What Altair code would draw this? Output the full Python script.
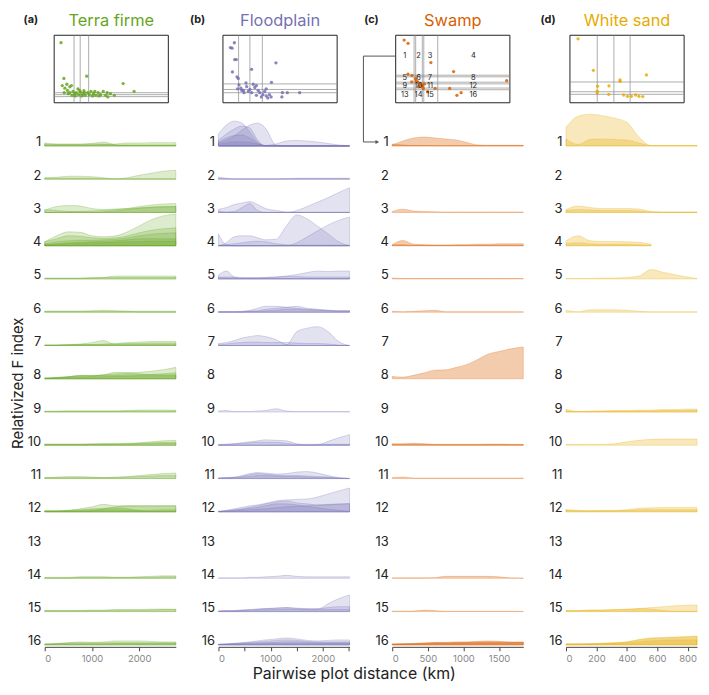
import altair as alt
import pandas as pd

FONT = "Inter"
INK = "#222222"

HABITATS = ["Terra firme", "Floodplain", "Swamp", "White sand"]
PANEL_TAGS = ["(a)", "(b)", "(c)", "(d)"]
COLORS = ["#66a61e", "#7570b3", "#d95f02", "#e6ab02"]
FILL_OPACITY = [0.22, 0.2, 0.32, 0.27]
X_MAX = [2775, 2510, 1840, 862]
X_TICKS = [[0, 1000, 2000], [0, 500, 1000, 1500, 2000, 2500], [0, 500, 1000, 1500], [0, 200, 400, 600, 800]]
ROWS = list(range(1, 17))

# ---------------- ridge curves (height of relativized F index, per row) ----------------
TF_X = [0, 250, 500, 750, 1000, 1250, 1500, 1750, 2000, 2250, 2500, 2775]
TF_CURVES = {
    1: [[3, 2, 2, 2, 2.5, 4, 1, 0.5, 0.5, 0.5, 0.5, 0.5],
        [1, 1, 1, 1, 1, 1.5, 2, 3, 3, 3.3, 3.3, 3.3],
        [2, 1.5, 1.5, 1.5, 2, 2, 1, 1, 1, 1, 1, 1]],
    2: [[1.5, 2, 3, 3, 2.5, 1.5, 0.3, 1.5, 4, 6, 8, 9],
        [1, 1, 1, 1, 1, 0.5, 0.5, 0.5, 0.5, 0.5, 0.5, 0.5]],
    3: [[2, 6, 7, 6.5, 4, 3, 3.5, 4, 4.5, 5, 5.5, 6],
        [0, 0, 0.5, 1, 1.5, 2, 3, 4, 6, 7.5, 8.5, 9],
        [3, 2, 1, 0.5, 0, 0.5, 1.5, 3, 4.5, 5.5, 6, 6]],
    4: [[4, 10, 14, 13.5, 10, 9, 10, 14, 20, 26, 30, 32],
        [4, 7, 10, 9.5, 8, 7.5, 8, 10, 13, 15.5, 17, 18],
        [2, 4, 5, 5.5, 5.5, 6, 6.5, 8, 10, 11.5, 12.5, 13],
        [1, 2, 3, 3.5, 4, 4.5, 5, 6, 7, 7, 7, 7],
        [1, 1.5, 2, 2.5, 3, 3, 3.5, 4, 4, 4.5, 4.5, 4.5]],
    5: [[0.5, 0.5, 0.5, 0.5, 1, 1.5, 3, 3, 3, 3, 3, 3],
        [1, 1, 1, 1, 1.5, 1.5, 1.5, 1.5, 1.5, 1.5, 1.5, 1.5]],
    6: [[1, 1, 1, 1, 1.5, 2, 1.5, 1, 0.5, 0.5, 0.5, 0.5],
        [1, 1, 1, 1, 1, 1, 1, 1, 1, 1, 1, 1]],
    7: [[0.5, 0.5, 1, 1.5, 3, 5, 1, 1, 1, 1, 1, 1],
        [0.5, 0.5, 1, 1, 1, 1.5, 2, 3, 3.5, 4, 4, 4],
        [0.5, 0.5, 0.5, 1, 1, 1, 1.5, 2, 2, 2.5, 2.5, 2.5]],
    8: [[0, 1, 2, 3.5, 3.5, 4, 5, 6, 6.5, 7.5, 9, 11.5],
        [0.5, 1, 2, 3, 3, 4, 6.5, 6, 5, 4, 4, 4],
        [1, 1.5, 2, 3, 3, 3.5, 3.5, 4, 4, 4.5, 5, 6],
        [0.5, 1, 1.5, 1.5, 2, 2, 2.5, 2.5, 3, 3, 3, 3]],
    9: [[0.5, 0.5, 1, 1, 1, 1, 1, 1.5, 2, 2, 2, 2],
        [1, 1, 1, 1, 1, 1, 1, 1, 1, 1, 1, 1]],
    10: [[1, 1, 1, 1, 1.5, 1.5, 1.5, 2, 2.5, 3.5, 4.5, 5],
         [1, 1, 1, 1, 1, 1.5, 1.5, 1.5, 2, 2.5, 3, 3],
         [1, 1, 1, 1, 1, 1, 1, 1, 1.5, 1.5, 2, 2]],
    11: [[1, 1.5, 2, 2, 1.5, 1, 1.5, 2, 3, 4, 5, 5.5],
         [1, 1, 1, 1, 1, 1, 1, 1.5, 2, 2.5, 3, 3]],
    12: [[1, 1, 1.5, 3, 5, 7.5, 6, 6, 6, 6, 6, 6],
         [0.5, 0.5, 0.5, 0.5, 1, 3, 5, 6, 6, 6, 6, 6],
         [1, 1, 1.5, 2, 3, 3.5, 4, 3, 1, 0.5, 0.5, 0.5],
         [0.5, 0.5, 1, 1.5, 2, 2, 2, 1.5, 1.5, 1.5, 2, 2]],
    14: [[1, 1, 1, 1.5, 1.5, 1.5, 1, 1, 1.5, 2, 2.5, 2.5],
         [0.5, 0.5, 0.5, 1, 1, 1, 1, 1, 1, 1, 1.5, 1.5]],
    15: [[1, 1, 1, 1, 1.5, 1.5, 2, 2, 2, 2.5, 2.5, 2.5],
         [1, 1, 1, 1, 1, 1, 1.5, 1.5, 1.5, 1.5, 2, 2]],
    16: [[0.5, 1, 2, 3, 2.5, 3, 4, 4, 4, 3.5, 3, 3],
         [1, 1.5, 2, 2, 2, 2, 2, 2, 2, 2, 2, 2],
         [0.5, 1, 1, 1, 1, 1, 1.5, 1.5, 1.5, 1.5, 1.5, 1.5]],
}

FP_X = [0, 150, 300, 450, 600, 750, 900, 1100, 1300, 1500, 1700, 1900, 2100, 2300, 2510]
FP_CURVES = {
    1: [[12, 21, 25, 23, 14, 4, 0, 0, 0, 0, 0, 0, 0, 0, 0],
        [3, 6, 10, 16, 21, 23, 18, 1, 0, 0, 0, 0, 0, 0, 0],
        [6, 12, 17, 20, 18, 6, 0, 0, 0, 0, 0, 0, 0, 0, 0],
        [4, 8, 10.5, 11, 8, 3, 0, 0, 0, 0, 0, 0, 0, 0, 0],
        [2, 3, 4, 4, 3.5, 2, 0.5, 0, 0, 0, 0, 0, 0, 0, 0],
        [0, 0, 0, 0, 0, 0, 0.5, 2, 5, 5.5, 5, 4, 2.5, 1, 0.3]],
    2: [[2, 1, 0.5, 0.5, 0.5, 0.5, 0.5, 0.5, 0.5, 1, 1, 1, 1, 1, 1],
        [1, 0.5, 0.3, 0.3, 0.3, 0.3, 0.3, 0.3, 0.5, 0.5, 0.5, 0.5, 0.5, 0.5, 0.5]],
    3: [[3.3, 5, 8, 9.5, 11, 8, 4, 2, 0.5, 0, 0, 0, 0, 0, 0],
        [0, 0, 0, 0, 0, 0, 0, 0, 0, 2, 6, 10.5, 15, 20, 25],
        [1.5, 0.5, 1, 5, 9, 2, 0, 0, 0, 0, 0, 0, 0, 0, 0]],
    4: [[11.7, 1, 0, 0, 0, 0, 0, 0, 0, 0, 0, 0, 0, 0, 0],
        [0, 3, 9, 10, 10, 8, 6, 6.5, 20, 31, 27, 19.6, 11.9, 4, 0],
        [0, 0, 0, 0, 0, 0, 0, 0, 0, 3, 9, 15, 21, 25.5, 29],
        [0, 1, 2, 3, 4, 4.5, 4, 2, 1, 0.5, 0.5, 0.5, 0.5, 0.5, 0.5]],
    5: [[4, 8, 2, 0.5, 0.5, 0.5, 0.5, 0.5, 0.5, 0.5, 0.5, 0.5, 0.5, 0.5, 0.5],
        [1, 1, 1, 1, 1, 1, 1.5, 2, 3, 4.5, 6.5, 8, 7.5, 8, 8],
        [2, 2, 2, 1.5, 1.5, 1.5, 1.5, 2, 2.5, 2.5, 2, 2, 2, 2, 2]],
    6: [[0.5, 0.5, 0.5, 1, 2, 4, 6, 6, 5, 4, 3, 2.5, 2, 1.5, 1.5],
        [0.5, 0.5, 0.5, 0.5, 1, 1.5, 3, 4, 5, 6, 4, 3, 2, 1.5, 1.5],
        [0.5, 0.5, 0.5, 0.5, 1, 1, 1.5, 2, 3, 3, 2.5, 2, 1.5, 1, 1]],
    7: [[2, 3, 5, 7.5, 9, 10, 9, 6, 1, 0, 0, 0, 0, 0, 0],
        [0, 0, 0, 0, 0, 0, 0, 0, 0.5, 14, 17.5, 19, 14, 4, 0],
        [1, 1.5, 2.5, 3, 3.5, 3.5, 3, 3, 3, 2.5, 2, 2, 1.5, 0.5, 0]],
    9: [[1, 1.5, 0.5, 0.5, 0.5, 1, 1.5, 3.3, 1, 0.5, 0.5, 0.5, 0.5, 0.5, 0.5]],
    10: [[0.5, 1, 1.5, 2.5, 3.5, 4.5, 5.5, 5, 4.5, 1.5, 0.5, 0.5, 0.5, 0.5, 0.5],
         [0, 0, 0, 0, 0, 0, 0, 0, 0, 0, 0, 0.5, 4, 7.5, 10.7],
         [1, 1, 1.5, 2, 2.5, 3, 3, 3, 2, 1, 1, 1, 1, 1, 1]],
    11: [[0.5, 1, 1.5, 3, 5, 6, 5.5, 4.5, 5, 6.5, 7, 5.5, 3, 1, 0],
         [0.5, 1, 1, 2, 4, 5, 4.5, 3.5, 3, 3, 2.5, 2, 1.5, 0.5, 0],
         [0.5, 0.5, 1, 1.5, 2, 3, 3, 2.5, 2, 2, 1.5, 1, 1, 0.5, 0.3]],
    12: [[0, 1.5, 3, 4.5, 6, 7, 8.5, 11, 12, 12.5, 13, 15, 18, 21, 24],
         [0.5, 1, 2, 3, 4.5, 6, 8, 10, 11, 9, 8, 7, 7.5, 8, 8.5],
         [0.5, 1, 1.5, 2.5, 3.5, 4.5, 6, 8, 8, 7, 5.5, 4, 2.5, 1.5, 0.5],
         [0.5, 0.5, 1, 1.5, 2, 2.5, 3, 4, 5, 5.5, 6, 6.5, 7, 7.5, 8]],
    14: [[0.5, 0.5, 0.5, 0.5, 1, 1, 1.5, 2, 3, 2, 1.5, 1.5, 1.5, 1.5, 1.5]],
    15: [[0.5, 1, 1, 1.5, 2, 2.5, 3, 3.5, 4, 3, 2.5, 2.5, 8, 13, 16.7],
         [0.5, 1, 1, 1.5, 2, 2.5, 3, 3.5, 4, 3.5, 3, 3, 4, 5, 5],
         [0.5, 0.5, 0.5, 1, 1, 1.5, 2, 2, 2.5, 2, 2, 2, 2, 2, 2]],
    16: [[0.5, 1, 1.5, 2, 3, 4, 5, 6, 7, 6, 4.5, 4, 4.5, 5, 5],
         [0.5, 1, 1.5, 2, 2.5, 3, 3.5, 4.5, 5, 4.5, 3.5, 3, 3, 3, 3],
         [0.5, 0.5, 1, 1, 1.5, 2, 2, 2.5, 3, 3, 2.5, 2, 2, 2, 2],
         [0.5, 0.5, 0.5, 1, 1, 1, 1.5, 1.5, 1.5, 1.5, 1.5, 1.5, 1.5, 1.5, 1.5]],
}

SW_X = [0, 150, 300, 450, 600, 750, 900, 1050, 1200, 1350, 1500, 1650, 1840]
SW_CURVES = {
    1: [[1, 5, 8, 9, 8, 7, 6, 3.5, 1, 0.7, 0.7, 0.7, 0.7],
        [2, 1, 0.5, 0.5, 0.3, 0.3, 0.3, 0.3, 0.3, 0.3, 0.3, 0.3, 0.3]],
    3: [[1, 3.3, 1.5, 1, 0.7, 0.5, 0.5, 0.5, 0.5, 0.5, 0.5, 0.5, 0.5]],
    4: [[1, 5.3, 1.5, 1, 0.7, 0.7, 1, 1, 1.5, 1.5, 2, 2, 2],
        [1, 1, 0.5, 0.5, 0.5, 0.5, 0.5, 0.5, 0.5, 0.5, 0.5, 0.5, 0.5]],
    5: [[1, 0.5, 0.5, 0.5, 0.5, 0.5, 0.5, 0.5, 0.5, 0.5, 0.5, 0.5, 0.5]],
    6: [[1, 0.5, 1, 1.5, 2, 0.5, 0.5, 0.5, 0.5, 0.5, 0.5, 0.5, 0.5]],
    8: [[2.3, 1.7, 3.5, 6, 8.7, 9, 11.5, 14.5, 19.5, 25, 27.5, 30, 32]],
    10: [[1.5, 1.5, 2, 1.5, 1, 1, 1, 1, 1, 1.2, 1.2, 1, 1],
         [1, 1, 1, 1, 0.7, 0.7, 0.7, 0.7, 0.7, 0.7, 0.7, 0.7, 0.7]],
    11: [[1, 1.5, 0.5, 0.5, 0.5, 0.5, 0.5, 0.5, 0.5, 0.5, 0.5, 0.5, 0.5]],
    14: [[0.5, 0.5, 0.5, 0.5, 0.7, 2, 2, 2, 2, 2, 1.5, 0.5, 0.3]],
    15: [[0.5, 0.5, 0.5, 1.5, 1, 0.3, 0.3, 0.3, 0.3, 0.3, 0.3, 0.3, 0.3]],
    16: [[0.5, 1, 1.5, 2, 2.5, 2.5, 3, 3, 3.5, 4, 3.5, 3, 3],
         [0.5, 1, 1, 1.5, 2, 2, 2.5, 2.5, 3, 3, 3, 2.5, 2.5],
         [1, 1, 1, 1, 1.5, 1.5, 1.5, 2, 2, 2, 2, 2, 2]],
}

WS_X = [0, 80, 160, 240, 320, 400, 480, 560, 640, 720, 800, 862]
WS_CURVES = {
    1: [[19, 30, 32, 30.5, 28, 24, 9, 0.5, 0.5, 0.5, 0.5, 0.5],
        [7, 1.5, 6.5, 7, 6.5, 6, 3, 0.3, 0.3, 0.3, 0.3, 0.3]],
    3: [[3, 6.5, 5, 4, 4, 4, 3.5, 1, 0.5, 0.5, 0.5, 0.5],
        [2, 3, 2.5, 2, 2, 2, 1.5, 0.5, 0.3, 0.3, 0.3, 0.3]],
    4: [[5, 10, 5, 4.3, 4.2, 4, 3.5, 1.5, None, None, None, None],
        [2, 3, 2, 1.5, 1.5, 1.5, 1, 0.5, None, None, None, None]],
    5: [[0.5, 0.5, 0.5, 1, 1, 1.5, 3, 9.5, 6.7, 4.3, 2, 0.5]],
    6: [[2, 0.5, 2.5, 2.5, 2.5, 2, 1, 0.5, 0.5, 0.5, 0.5, 0.5]],
    9: [[3, 0.5, 1, 1, 1.5, 1.5, 2, 2, 2.5, 2.5, 3, 3],
        [1, 0.5, 0.5, 1, 1, 1, 1, 1, 1.5, 1.5, 1.5, 2]],
    10: [[1, 1, 1, 1, 1.5, 3.5, 5, 6, 6.3, 6.3, 6.3, 6.3]],
    12: [[2, 1, 1, 1.5, 1.5, 2, 3.5, 4, 4.3, 4.3, 4.3, 4.3],
         [2, 1.5, 1, 1, 1, 1.5, 2, 2, 2, 2, 2, 2]],
    15: [[1, 1, 1.5, 1.5, 2, 2, 3, 4, 5, 6, 6.5, 6.7],
         [1, 1, 1.5, 1.5, 2, 2.5, 3, 2.5, 1, 0.3, 0.3, 0.3]],
    16: [[1, 1, 1, 1.5, 2, 3, 5.5, 7, 7.5, 8, 8.5, 9],
         [1, 1, 1, 1.5, 2, 3, 5, 6.5, 7, 7.5, 8, 8.5],
         [0.5, 0.5, 1, 1, 1.5, 2, 3, 4, 4.5, 5, 5, 5]],
}

# ---------------- inset scatter plots (relative units 0..1) ----------------
TF_PTS_X = [0.06, 0.085, 0.285, 0.604, 0.70, 0.071, 0.094, 0.111, 0.137, 0.151, 0.117, 0.137, 0.165,
            0.179, 0.194, 0.214, 0.231, 0.222, 0.251, 0.271, 0.293, 0.308, 0.322, 0.345, 0.365, 0.385,
            0.407, 0.43, 0.45, 0.47, 0.493, 0.527, 0.157, 0.185, 0.242, 0.336, 0.123, 0.088, 0.208,
            0.265, 0.356, 0.393, 0.464, 0.26]
TF_PTS_Y = [0.89, 0.36, 0.394, 0.284, 0.168, 0.255, 0.216, 0.274, 0.236, 0.255, 0.183, 0.149, 0.168,
            0.135, 0.149, 0.12, 0.159, 0.183, 0.13, 0.111, 0.149, 0.12, 0.168, 0.135, 0.111, 0.149,
            0.12, 0.168, 0.111, 0.087, 0.135, 0.111, 0.111, 0.101, 0.101, 0.101, 0.135, 0.149, 0.207,
            0.149, 0.168, 0.101, 0.149, 0.178]
TF_VLINES = [0.174, 0.228, 0.302]
TF_HLINES = [0.091, 0.12, 0.149]

FP_PTS_X = [0.066, 0.08, 0.1, 0.103, 0.117, 0.083, 0.123, 0.134, 0.251, 0.464, 0.425, 0.14, 0.157,
            0.179, 0.208, 0.236, 0.265, 0.279, 0.308, 0.322, 0.35, 0.379, 0.407, 0.293, 0.251, 0.185,
            0.165, 0.222, 0.365, 0.521, 0.564, 0.672, 0.516, 0.422, 0.393, 0.336, 0.128, 0.202, 0.293,
            0.379]
FP_PTS_Y = [0.817, 0.808, 0.889, 0.64, 0.64, 0.457, 0.385, 0.36, 0.495, 0.591, 0.303, 0.264, 0.216,
            0.183, 0.24, 0.197, 0.274, 0.226, 0.183, 0.149, 0.12, 0.101, 0.12, 0.111, 0.149, 0.149,
            0.183, 0.168, 0.168, 0.149, 0.149, 0.149, 0.087, 0.087, 0.072, 0.087, 0.207, 0.293, 0.255,
            0.207]
FP_VLINES = [0.137, 0.236, 0.345]
FP_HLINES = [0.149, 0.197, 0.279]

SW_PTS_X = [0.074, 0.108, 0.308, 0.507, 0.972, 0.108, 0.142, 0.14, 0.179, 0.194, 0.214, 0.236, 0.242,
            0.279, 0.345, 0.473, 0.536, 0.573, 0.222, 0.202, 0.251, 0.174]
SW_PTS_Y = [0.928, 0.88, 0.596, 0.462, 0.327, 0.423, 0.404, 0.308, 0.327, 0.308, 0.279, 0.245, 0.212,
            0.163, 0.212, 0.212, 0.111, 0.149, 0.26, 0.24, 0.279, 0.356]
SW_VLINES = [0.161, 0.175, 0.233, 0.246, 0.368]
SW_HLINES = [0.193, 0.218, 0.280, 0.305, 0.384, 0.408]
SW_REGION_COL_X = [0.08, 0.2, 0.3, 0.68]
SW_REGION_ROW_Y = [0.69, 0.36, 0.245, 0.11]

WS_PTS_X = [0.071, 0.205, 0.67, 0.439, 0.439, 0.242, 0.342, 0.239, 0.239, 0.339, 0.47, 0.504, 0.538,
            0.575, 0.604, 0.638]
WS_PTS_Y = [0.947, 0.481, 0.413, 0.337, 0.317, 0.245, 0.25, 0.173, 0.149, 0.125, 0.115, 0.096, 0.096,
            0.115, 0.096, 0.091]
WS_VLINES = [0.239, 0.385, 0.527]
WS_HLINES = [0.125, 0.163, 0.308]

# ---------------- layout constants ----------------
PANEL_W = 132
PANEL_H = 616
STEP = 33.5                      # vertical offset between ridge rows
Y_DOMAIN = [-2, 614]
ROW1_Y = 111.5                   # pixel offset of row 1 baseline from panel top
INSET_W = 115
INSET_H = 68
INSET_LEFT = [9.5, 4.5, 3.5, 4.0]
TAG_X = [-14, -21, -21, -18]


def ridge_frame(xs, curves):
    recs = []
    for row, group in curves.items():
        for ci, hs in enumerate(group):
            for x, h in zip(xs, hs):
                if h is None:
                    continue
                recs.append({"row": row, "curve": f"{row}-{ci}", "km": x, "h": h})
    return pd.DataFrame(recs)


def panel(i, xs, curves, pts_x, pts_y, vlines, hlines, first=False, regions=False, connector=False):
    color = COLORS[i]
    df = ridge_frame(xs, curves)
    yaxis = alt.Axis(
        orient="left",
        values=[(16 - k) * STEP for k in ROWS],
        labelExpr=f"16 - round(datum.value / {STEP})",
        domain=False, ticks=False, grid=False,
        labelFontSize=13, labelColor=INK, labelBaseline="alphabetic", labelPadding=4,
        title="Relativized F index" if first else None,
        titleFontSize=15, titleFontWeight="normal", titleColor=INK,
        titlePadding=2, titleY=350,
    )
    xaxis = alt.Axis(
        orient="bottom", values=X_TICKS[i], title=None, grid=False, format="d",
        labelFontSize=9.5, labelColor="#888888", domainColor="#444444",
        tickColor="#444444", tickSize=4, labelPadding=3,
    )
    ridge = alt.Chart(df).transform_calculate(
        base=f"(16 - datum.row) * {STEP}",
        top=f"(16 - datum.row) * {STEP} + datum.h",
    ).mark_area(
        interpolate="monotone", color=color, fillOpacity=FILL_OPACITY[i],
        stroke=color, strokeOpacity=0.45, strokeWidth=0.6,
    ).encode(
        x=alt.X("km:Q", scale=alt.Scale(domain=[0, X_MAX[i]], nice=False), axis=xaxis),
        y=alt.Y("top:Q", scale=alt.Scale(domain=Y_DOMAIN, nice=False, zero=False), axis=yaxis),
        y2="base:Q",
        detail="curve:N",
    )

    ix = alt.Scale(domain=[0, 1], range=[INSET_LEFT[i], INSET_LEFT[i] + INSET_W], nice=False, zero=False)
    iy = alt.Scale(domain=[0, 1], range=[INSET_H, 0], nice=False, zero=False)

    box_df = pd.DataFrame({"x0": [0], "x1": [1], "y0": [0], "y1": [1]})
    box = alt.Chart(box_df).mark_rect(fill="white", stroke="#222222", strokeWidth=1).encode(
        x=alt.X("x0:Q", scale=ix, axis=None), x2="x1:Q",
        y=alt.Y("y0:Q", scale=iy, axis=None), y2="y1:Q",
    )
    vdf = pd.DataFrame({"v": vlines, "lo": 0, "hi": 1})
    vl = alt.Chart(vdf).mark_rule(color="#8a8a8a", strokeWidth=0.7).encode(
        x=alt.X("v:Q", scale=ix, axis=None),
        y=alt.Y("lo:Q", scale=iy, axis=None), y2="hi:Q",
    )
    hdf = pd.DataFrame({"h": hlines, "lo": 0, "hi": 1})
    hl = alt.Chart(hdf).mark_rule(color="#8a8a8a", strokeWidth=0.7).encode(
        y=alt.Y("h:Q", scale=iy, axis=None),
        x=alt.X("lo:Q", scale=ix, axis=None), x2="hi:Q",
    )
    pdf = pd.DataFrame({"px": pts_x, "py": pts_y})
    pts = alt.Chart(pdf).mark_circle(size=11, color=color, opacity=0.85).encode(
        x=alt.X("px:Q", scale=ix, axis=None),
        y=alt.Y("py:Q", scale=iy, axis=None),
    )
    inset_layers = [box, vl, hl, pts]
    if regions:
        recs = []
        n = 1
        for ry in SW_REGION_ROW_Y:
            for rx in SW_REGION_COL_X:
                recs.append({"rx": rx, "ry": ry, "lab": str(n)})
                n += 1
        rdf = pd.DataFrame(recs)
        lab = alt.Chart(rdf).mark_text(fontSize=7.5, color=INK, font=FONT, baseline="middle").encode(
            x=alt.X("rx:Q", scale=ix, axis=None),
            y=alt.Y("ry:Q", scale=iy, axis=None),
            text="lab:N",
        )
        inset_layers.append(lab)
    inset = alt.layer(*inset_layers)

    one = pd.DataFrame({"a": [0]})
    title = alt.Chart(one).mark_text(
        fontSize=16.5, color=color, font=FONT, align="center", baseline="alphabetic",
    ).encode(x=alt.value(INSET_LEFT[i] + INSET_W / 2), y=alt.value(-9), text=alt.value(HABITATS[i]))
    tag = alt.Chart(one).mark_text(
        fontSize=11, color=INK, font=FONT, fontWeight="bold", align="center", baseline="alphabetic",
    ).encode(x=alt.value(TAG_X[i]), y=alt.value(-12), text=alt.value(PANEL_TAGS[i]))

    layers = [ridge, inset, title, tag]
    if connector:
        ya = ROW1_Y - 4
        segs = [(INSET_LEFT[i], -29, 21, 21), (-29, -29, 21, ya), (-29, -16, ya, ya)]
        for x1, x2, y1, y2 in segs:
            layers.append(alt.Chart(one).mark_rule(color="#555555", strokeWidth=1).encode(
                x=alt.value(x1), x2=alt.value(x2), y=alt.value(y1), y2=alt.value(y2)))
        layers.append(alt.Chart(one).mark_point(
            shape="triangle-right", size=18, filled=True, color="#555555", opacity=1,
        ).encode(x=alt.value(-15), y=alt.value(ya)))

    return alt.layer(*layers).resolve_scale(x="independent", y="independent").properties(
        width=PANEL_W, height=PANEL_H)


tf = panel(0, TF_X, TF_CURVES, TF_PTS_X, TF_PTS_Y, TF_VLINES, TF_HLINES, first=True)
fp = panel(1, FP_X, FP_CURVES, FP_PTS_X, FP_PTS_Y, FP_VLINES, FP_HLINES)
sw = panel(2, SW_X, SW_CURVES, SW_PTS_X, SW_PTS_Y, SW_VLINES, SW_HLINES, regions=True, connector=True)
ws = panel(3, WS_X, WS_CURVES, WS_PTS_X, WS_PTS_Y, WS_VLINES, WS_HLINES)

chart = alt.hconcat(tf, fp, sw, ws, spacing=43, bounds="flush").properties(
    title=alt.TitleParams(
        "Pairwise plot distance (km)", orient="bottom", anchor="middle",
        fontSize=16, fontWeight="normal", font=FONT, color=INK, offset=3,
    ),
    padding={"left": 2, "top": 3, "right": 2, "bottom": 2},
).configure_view(stroke=None).configure_axis(labelFont=FONT, titleFont=FONT)

chart.save("out.html", embed_options={"renderer": "svg", "actions": False})
